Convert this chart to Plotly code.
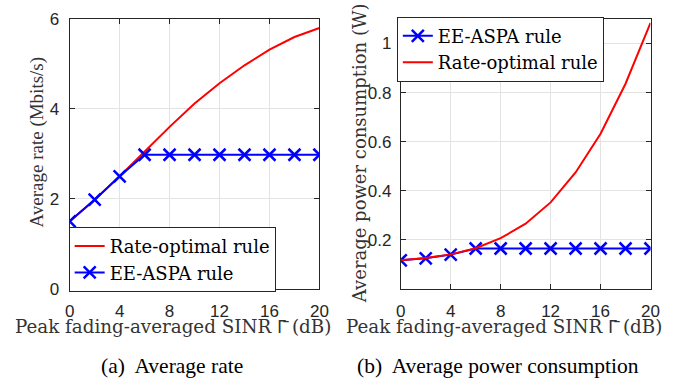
import plotly.graph_objects as go

snr_db = [0, 2, 4, 6, 8, 10, 12, 14, 16, 18, 20]

rate_optimal_rate = [1.5, 1.98, 2.5, 3.05, 3.6, 4.12, 4.57, 4.97, 5.32, 5.6, 5.8]
ee_aspa_rate = [1.5, 1.98, 2.5, 2.98, 2.98, 2.98, 2.98, 2.98, 2.98, 2.98, 2.98]

ee_aspa_power = [0.116, 0.124, 0.139, 0.164, 0.164, 0.164, 0.164, 0.164, 0.164, 0.164, 0.164]
rate_optimal_power = [0.116, 0.125, 0.14, 0.165, 0.206, 0.265, 0.352, 0.474, 0.632, 0.836, 1.084]

x_ticks = [0, 4, 8, 12, 16, 20]
rate_ticks = [0, 2, 4, 6]
power_ticks = [0.2, 0.4, 0.6, 0.8, 1]
power_tick_labels = ["0.2", "0.4", "0.6", "0.8", "1"]

RED = "#ff0000"
BLUE = "#0000ff"
SERIF = "DejaVu Serif, serif"
CAPTION = "Liberation Serif, serif"
SANS = "Liberation Sans, Arial, sans-serif"
AX = "#262626"
TITLE_COLOR = "#333333"

fig = go.Figure()

fig.add_trace(go.Scatter(x=snr_db, y=rate_optimal_rate, mode="lines", name="Rate-optimal rule",
                         line=dict(color=RED, width=2), xaxis="x", yaxis="y", legend="legend"))
fig.add_trace(go.Scatter(x=snr_db, y=ee_aspa_rate, mode="lines+markers", name="EE-ASPA rule",
                         line=dict(color=BLUE, width=2),
                         marker=dict(symbol="x-thin-open", size=12, line=dict(color=BLUE, width=2.5)),
                         xaxis="x", yaxis="y", legend="legend"))

fig.add_trace(go.Scatter(x=snr_db, y=ee_aspa_power, mode="lines+markers", name="EE-ASPA rule",
                         line=dict(color=BLUE, width=2),
                         marker=dict(symbol="x-thin-open", size=12, line=dict(color=BLUE, width=2.5)),
                         xaxis="x2", yaxis="y2", legend="legend2"))
fig.add_trace(go.Scatter(x=snr_db, y=rate_optimal_power, mode="lines", name="Rate-optimal rule",
                         line=dict(color=RED, width=2), xaxis="x2", yaxis="y2", legend="legend2"))

axis_common = dict(showline=True, linecolor=AX, linewidth=1, mirror="ticks", ticks="inside",
                   ticklen=5, tickcolor=AX, showgrid=True, gridcolor="#e3e3e3", gridwidth=1,
                   zeroline=False, tickfont=dict(family=SANS, size=17, color=AX))

xtitle = "Peak fading-averaged SINR <span style='font-family:Noto Sans'>\u0393\u0304</span> (dB)"

W, H = 685, 391


def px(xp, yp):
    return xp / W, 1 - yp / H


annotations = []
for text, (cx, cy), size, angle, fam, color in [
    (xtitle, (172, 333), 18.3, 0, SERIF, TITLE_COLOR),
    (xtitle, (509, 333), 18.3, 0, SERIF, TITLE_COLOR),
    ("Average rate (Mbits/s)", (33, 140), 19, -90, CAPTION, TITLE_COLOR),
    ("Average power consumption (W)", (362, 152), 18, -90, SERIF, TITLE_COLOR),
    ("(a)  Average rate", (170, 375), 21.5, 0, CAPTION, "black"),
    ("(b)  Average power consumption", (503, 375), 21.5, 0, CAPTION, "black"),
]:
    ax_, ay_ = px(cx, cy)
    annotations.append(dict(text=text, x=ax_, y=ay_, xref="paper", yref="paper",
                            xanchor="center", yanchor="middle", showarrow=False, textangle=angle,
                            font=dict(family=fam, size=size, color=color)))

fig.update_layout(
    width=W, height=H, margin=dict(l=0, r=0, t=0, b=0),
    paper_bgcolor="white", plot_bgcolor="white",
    xaxis=dict(domain=[0.0964, 0.4686], range=[0, 20], tickvals=x_ticks, anchor="y",
               ticklabelstandoff=7, **axis_common),
    yaxis=dict(domain=[0.2481, 0.9731], range=[0, 6], tickvals=rate_ticks, anchor="x",
               ticklabelstandoff=6, **axis_common),
    xaxis2=dict(domain=[0.5898, 0.962], range=[0, 20], tickvals=x_ticks, anchor="y2",
                ticklabelstandoff=7, **axis_common),
    yaxis2=dict(domain=[0.2481, 0.9731], range=[0, 1.1], tickvals=power_ticks, ticktext=power_tick_labels,
                anchor="x2", ticklabelstandoff=5, **axis_common),
    legend=dict(x=65 / W, y=1 - 229 / H, xanchor="left", yanchor="top", bgcolor="white",
                bordercolor=AX, borderwidth=1, font=dict(family=SERIF, size=18, color="black"),
                tracegroupgap=0, itemwidth=30),
    legend2=dict(x=400 / W, y=1 - 8 / H, xanchor="left", yanchor="top", bgcolor="white",
                 bordercolor=AX, borderwidth=1, font=dict(family=SERIF, size=18, color="black"),
                 tracegroupgap=0, itemwidth=30),
    showlegend=True,
    annotations=annotations,
)

fig.write_html("out.html")
